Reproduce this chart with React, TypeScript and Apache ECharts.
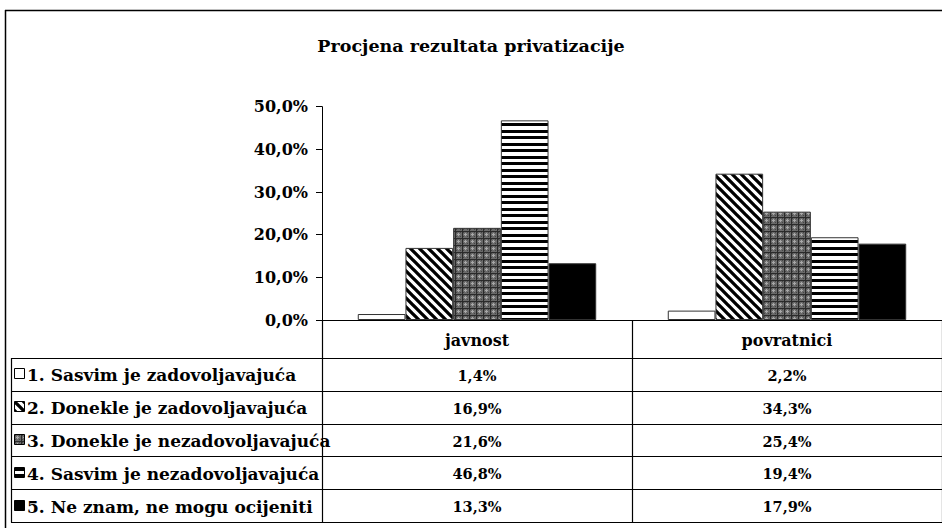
import React, { useEffect, useRef } from 'react';
import * as echarts from 'echarts';

const TITLE = 'Procjena rezultata privatizacije';
const categories = ['javnost', 'povratnici'];
const seriesNames = [
  '1. Sasvim je zadovoljavajuća',
  '2. Donekle je zadovoljavajuća',
  '3. Donekle je nezadovoljavajuća',
  '4. Sasvim je nezadovoljavajuća',
  '5. Ne znam, ne mogu ocijeniti',
];
const sasvimZadovoljavajuca = [1.4, 2.2];
const donekleZadovoljavajuca = [16.9, 34.3];
const donekleNezadovoljavajuca = [21.6, 25.4];
const sasvimNezadovoljavajuca = [46.8, 19.4];
const neZnam = [13.3, 17.9];
const seriesValues = [
  sasvimZadovoljavajuca,
  donekleZadovoljavajuca,
  donekleNezadovoljavajuca,
  sasvimNezadovoljavajuca,
  neZnam,
];
const yMin = 0;
const yMax = 50;
const yInterval = 10;

const FONT = "'DejaVu Serif', serif";
const W = 942;
const H = 528;

const fmt = (v: number) => v.toFixed(1).replace('.', ',') + '%';

function tile(w: number, h: number, draw: (ctx: CanvasRenderingContext2D) => void) {
  const c = document.createElement('canvas');
  c.width = w;
  c.height = h;
  const ctx = c.getContext('2d') as CanvasRenderingContext2D;
  draw(ctx);
  return { image: c.toDataURL(), repeat: 'repeat', imageWidth: w, imageHeight: h } as any;
}

function makePatterns() {
  const diag = tile(9, 9, (ctx) => {
    ctx.fillStyle = '#fff';
    ctx.fillRect(0, 0, 9, 9);
    ctx.strokeStyle = '#000';
    ctx.lineWidth = 3.3;
    ctx.beginPath();
    for (const k of [-9, 0, 9]) {
      ctx.moveTo(k - 3, -3);
      ctx.lineTo(k + 12, 12);
    }
    ctx.stroke();
  });
  const cross = tile(7, 7, (ctx) => {
    ctx.fillStyle = '#6a6a6a';
    ctx.fillRect(0, 0, 7, 7);
    ctx.fillStyle = '#2a2a2a';
    ctx.fillRect(0, 0, 7, 1);
    ctx.fillRect(0, 0, 1, 7);
    ctx.fillStyle = '#444';
    ctx.fillRect(1, 1, 1, 1);
    ctx.fillRect(5, 5, 1, 1);
    ctx.fillRect(1, 5, 1, 1);
    ctx.fillRect(5, 1, 1, 1);
    ctx.fillStyle = '#a8a8a8';
    ctx.fillRect(3, 2, 1, 3);
    ctx.fillRect(2, 3, 3, 1);
  });
  const horiz = tile(8, 13, (ctx) => {
    ctx.fillStyle = '#fff';
    ctx.fillRect(0, 0, 8, 13);
    ctx.fillStyle = '#000';
    ctx.fillRect(0, 0, 8, 3);
    ctx.fillRect(0, 6, 8, 3);
  });
  return ['#ffffff', diag, cross, horiz, '#000000'];
}

export default function App() {
  const ref = useRef<HTMLDivElement>(null);

  useEffect(() => {
    if (!ref.current) return;
    const chart = echarts.init(ref.current, undefined, { renderer: 'svg', width: W, height: H });
    const fills = makePatterns();

    const gridLeft = 322;
    const gridTop = 106.7;
    const gridHeight = 213.3;
    const catWidth = 312;

    chart.setOption({
      animation: false,
      backgroundColor: '#fff',
      title: {
        text: TITLE,
        left: 'center',
        top: 32,
        textStyle: { fontFamily: FONT, fontSize: 17.5, fontWeight: 'bold', color: '#000' },
      },
      grid: { left: gridLeft, top: gridTop, width: catWidth * categories.length, height: gridHeight },
      xAxis: {
        type: 'category',
        data: categories,
        axisLine: { show: true, lineStyle: { color: '#000', width: 1 } },
        axisTick: { show: true, length: 202, lineStyle: { color: '#000', width: 1.2 } },
        axisLabel: { margin: 12, fontFamily: FONT, fontSize: 16, fontWeight: 'bold', color: '#000' },
      },
      yAxis: {
        type: 'value',
        min: yMin,
        max: yMax,
        interval: yInterval,
        axisLine: { show: true, lineStyle: { color: '#000', width: 1 } },
        axisTick: { show: true, length: 6, lineStyle: { color: '#000' } },
        splitLine: { show: false },
        axisLabel: {
          margin: 14,
          formatter: (v: number) => fmt(v),
          fontFamily: FONT,
          fontSize: 16,
          fontWeight: 'bold',
          color: '#000',
        },
      },
      series: seriesNames.map((name, i) => ({
        name,
        type: 'bar',
        data: seriesValues[i],
        barGap: '0%',
        barCategoryGap: '23.08%',
        itemStyle: { color: fills[i], borderColor: '#333', borderWidth: 1 },
      })),
    });

    // Build the data table beneath the plot from the same data.
    const colCenters = categories.map((c) => chart.convertToPixel({ xAxisIndex: 0 }, c) as number);
    const tableLeft = 11;
    const headerBottom = 358;
    const rowH = 32.8;

    const elements: any[] = [];
    elements.push({
      type: 'line',
      shape: { x1: 5, y1: 10.5, x2: W, y2: 10.5 },
      style: { stroke: '#000', lineWidth: 1.5 },
      silent: true,
    });
    elements.push({
      type: 'line',
      shape: { x1: 5.5, y1: 10, x2: 5.5, y2: H },
      style: { stroke: '#000', lineWidth: 1.5 },
      silent: true,
    });
    for (let r = 0; r <= seriesNames.length; r++) {
      const y = Math.round(headerBottom + r * rowH) + 0.5;
      elements.push({
        type: 'line',
        shape: { x1: tableLeft, y1: y, x2: W, y2: y },
        style: { stroke: '#000', lineWidth: 1.2 },
        silent: true,
      });
    }
    elements.push({
      type: 'line',
      shape: { x1: tableLeft + 0.5, y1: headerBottom, x2: tableLeft + 0.5, y2: Math.round(headerBottom + seriesNames.length * rowH) + 0.5 },
      style: { stroke: '#000', lineWidth: 1.2 },
      silent: true,
    });
    seriesNames.forEach((name, r) => {
      const yc = headerBottom + r * rowH + rowH / 2;
      elements.push({
        type: 'rect',
        shape: { x: tableLeft + 3.5, y: Math.round(yc - 5) - 0.5, width: 10, height: 10 },
        style: { fill: fills[r], stroke: '#000', lineWidth: 1 },
        silent: true,
      });
      elements.push({
        type: 'text',
        x: tableLeft + 16,
        y: yc + 1,
        style: {
          text: name,
          fill: '#000',
          fontFamily: FONT,
          fontSize: 17,
          fontWeight: 'bold',
          align: 'left',
          verticalAlign: 'middle',
        },
        silent: true,
      });
      seriesValues[r].forEach((v, c) => {
        elements.push({
          type: 'text',
          x: colCenters[c],
          y: yc + 1,
          style: {
            text: fmt(v),
            fill: '#000',
            fontFamily: FONT,
            fontSize: 14.5,
            fontWeight: 'bold',
            align: 'center',
            verticalAlign: 'middle',
          },
          silent: true,
        });
      });
    });
    chart.setOption({ graphic: { elements } });

    return () => chart.dispose();
  }, []);

  return (
    <div
      ref={ref}
      style={{ position: 'fixed', left: 0, top: 0, width: W, height: H, background: '#fff' }}
    />
  );
}
